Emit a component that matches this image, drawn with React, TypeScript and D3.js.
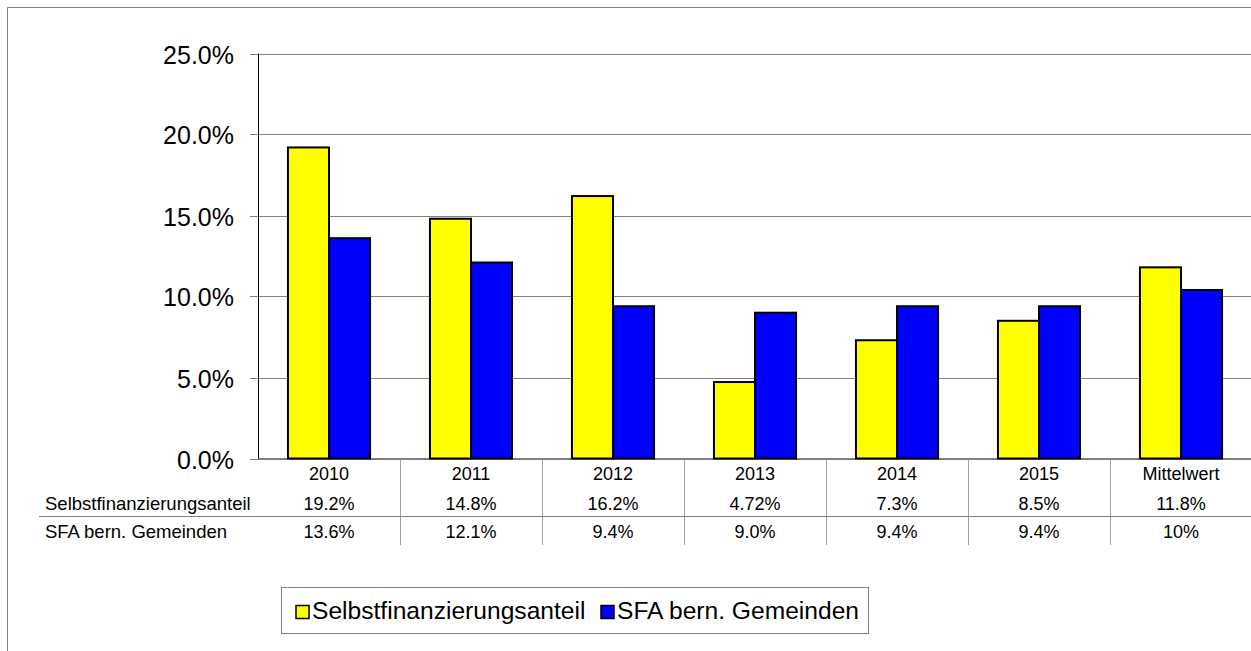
import React, { useEffect, useRef } from "react";
import * as d3 from "d3";

const categories = ["2010", "2011", "2012", "2013", "2014", "2015", "Mittelwert"];
const seriesNames = ["Selbstfinanzierungsanteil", "SFA bern. Gemeinden"];
const selbstValues = [19.2, 14.8, 16.2, 4.72, 7.3, 8.5, 11.8];
const sfaValues = [13.6, 12.1, 9.4, 9.0, 9.4, 9.4, 10.4];
const selbstLabels = ["19.2%", "14.8%", "16.2%", "4.72%", "7.3%", "8.5%", "11.8%"];
const sfaLabels = ["13.6%", "12.1%", "9.4%", "9.0%", "9.4%", "9.4%", "10%"];
const yTicks = [0, 5, 10, 15, 20, 25];
const seriesColors = ["#FFFF00", "#0000FF"];

const FONT = "Arial, 'Liberation Sans', sans-serif";

const App = () => {
  const ref = useRef<SVGSVGElement | null>(null);

  useEffect(() => {
    if (!ref.current) return;
    const svg = d3.select(ref.current);
    svg.selectAll("*").remove();

    const width = 1251;
    const height = 651;
    const left = 258;
    const right = 1252;
    const top = 53.5;
    const bottom = 458.5;

    // outer chart frame (clipped at the right and bottom)
    svg
      .append("path")
      .attr("d", `M7.5,${height + 5}V7.5H${width + 5}`)
      .attr("fill", "none")
      .attr("stroke", "#808080")
      .attr("stroke-width", 1);

    const x = d3.scaleBand().domain(categories).range([left, right]);
    const x1 = d3
      .scaleBand()
      .domain(seriesNames)
      .range([0, x.bandwidth()])
      .paddingOuter(0.73);
    const y = d3.scaleLinear().domain([0, 25]).range([bottom, top]);

    // gridlines + ticks
    const grid = svg.append("g");
    yTicks.forEach((t) => {
      const yy = Math.round(y(t)) + 0.5;
      if (t > 0) {
        grid
          .append("line")
          .attr("x1", left)
          .attr("x2", right)
          .attr("y1", yy)
          .attr("y2", yy)
          .attr("stroke", "#808080");
      }
      grid
        .append("line")
        .attr("x1", left - 8)
        .attr("x2", left)
        .attr("y1", yy)
        .attr("y2", yy)
        .attr("stroke", "#808080");
      grid
        .append("text")
        .attr("x", 234)
        .attr("y", yy + 9)
        .attr("text-anchor", "end")
        .attr("font-family", FONT)
        .attr("font-size", 25)
        .attr("fill", "#000")
        .text(t.toFixed(1) + "%");
    });

    // bars
    const allValues = [selbstValues, sfaValues];
    allValues.forEach((vals, si) => {
      svg
        .append("g")
        .selectAll("rect")
        .data(vals)
        .join("rect")
        .attr("x", (_d, i) => (x(categories[i]) ?? 0) + (x1(seriesNames[si]) ?? 0))
        .attr("y", (d) => y(d))
        .attr("width", x1.bandwidth())
        .attr("height", (d) => bottom - y(d))
        .attr("fill", seriesColors[si])
        .attr("stroke", "#000")
        .attr("stroke-width", 2);
    });

    // axes
    svg
      .append("line")
      .attr("x1", left + 0.5)
      .attr("x2", left + 0.5)
      .attr("y1", top)
      .attr("y2", bottom)
      .attr("stroke", "#000");
    svg
      .append("line")
      .attr("x1", left)
      .attr("x2", right)
      .attr("y1", bottom + 0.5)
      .attr("y2", bottom + 0.5)
      .attr("stroke", "#000");

    // data table
    const rowY = [479.5, 509.5, 537.5];
    const table = svg.append("g").attr("font-family", FONT).attr("fill", "#000");
    categories.forEach((c, i) => {
      const cx = (x(c) ?? 0) + x.bandwidth() / 2;
      [c, selbstLabels[i], sfaLabels[i]].forEach((label, r) => {
        table
          .append("text")
          .attr("x", cx)
          .attr("y", rowY[r])
          .attr("text-anchor", "middle")
          .attr("font-size", 18)
          .text(label);
      });
      if (i > 0) {
        const bx = Math.round(x(c) ?? 0) + 0.5;
        table
          .append("line")
          .attr("x1", bx)
          .attr("x2", bx)
          .attr("y1", bottom + 1)
          .attr("y2", 545)
          .attr("stroke", "#a0a0a0");
      }
    });
    table
      .append("line")
      .attr("x1", 39)
      .attr("x2", right)
      .attr("y1", 516.5)
      .attr("y2", 516.5)
      .attr("stroke", "#808080");
    seriesNames.forEach((s, si) => {
      table
        .append("text")
        .attr("x", 45)
        .attr("y", rowY[si + 1])
        .attr("font-size", 18.5)
        .text(s);
    });

    // legend
    const legend = svg.append("g").attr("font-family", FONT);
    legend
      .append("rect")
      .attr("x", 281.5)
      .attr("y", 587.5)
      .attr("width", 587)
      .attr("height", 46)
      .attr("fill", "#fff")
      .attr("stroke", "#808080");
    const itemX = [296, 601];
    seriesNames.forEach((s, si) => {
      legend
        .append("rect")
        .attr("x", itemX[si])
        .attr("y", 605.5)
        .attr("width", 13)
        .attr("height", 13)
        .attr("fill", seriesColors[si])
        .attr("stroke", "#000")
        .attr("stroke-width", 1.5);
      legend
        .append("text")
        .attr("x", itemX[si] + 16)
        .attr("y", 618.5)
        .attr("font-size", 24.6)
        .attr("fill", "#000")
        .text(s);
    });
  }, []);

  return (
    <svg
      ref={ref}
      width={1251}
      height={651}
      style={{ position: "absolute", left: 0, top: 0, background: "#fff" }}
    />
  );
};

export default App;
